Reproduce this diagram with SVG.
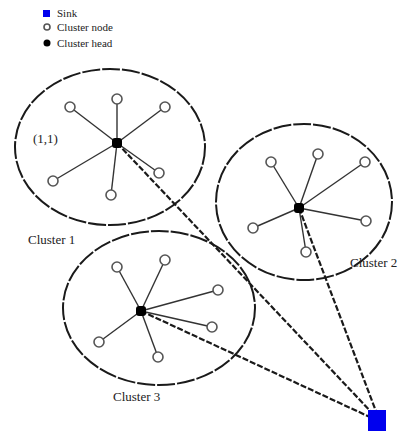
<svg xmlns="http://www.w3.org/2000/svg" width="400" height="433" viewBox="0 0 400 433">
<style>
.bg{fill:#fff}
.ell{fill:none;stroke:#1a1a1a;stroke-width:2;stroke-dasharray:18 2}
.spoke{stroke:#333;stroke-width:1.4}
.link{stroke:#1a1a1a;stroke-width:2.2;stroke-dasharray:6 2;fill:none}
.node{fill:#fff;stroke:#555;stroke-width:1.6}
.head{fill:#000}
.sink{fill:#0000ee}
.lbl{font-family:"Liberation Serif","Times New Roman",serif;font-size:13px;fill:#222}
.leg{font-family:"Liberation Serif","Times New Roman",serif;font-size:11px;fill:#222}
</style>
<rect class="bg" width="400" height="433"/>
<g id="legend">
<rect class="sink" x="43" y="10" width="7" height="7"/>
<text class="leg" x="57" y="17">Sink</text>
<circle class="node" cx="47" cy="27" r="3"/>
<text class="leg" x="57" y="31">Cluster node</text>
<circle class="head" cx="47" cy="43" r="3.5"/>
<text class="leg" x="57" y="47">Cluster head</text>
</g>
<g id="connectors">
<line class="link" x1="117" y1="143" x2="375" y2="416"/>
<line class="link" x1="299" y1="208" x2="377" y2="414"/>
<line class="link" x1="141" y1="311" x2="372" y2="418"/>
</g>
<g id="cluster1">
<ellipse class="ell" cx="110" cy="147" rx="95" ry="78"/>
<line class="spoke" x1="117" y1="143" x2="70" y2="107"/>
<line class="spoke" x1="117" y1="143" x2="117" y2="99"/>
<line class="spoke" x1="117" y1="143" x2="165" y2="107"/>
<line class="spoke" x1="117" y1="143" x2="53" y2="181"/>
<line class="spoke" x1="117" y1="143" x2="111" y2="195"/>
<line class="spoke" x1="117" y1="143" x2="159" y2="173"/>
<circle class="node" cx="70" cy="107" r="5"/>
<circle class="node" cx="117" cy="99" r="5"/>
<circle class="node" cx="165" cy="107" r="5"/>
<circle class="node" cx="53" cy="181" r="5"/>
<circle class="node" cx="111" cy="195" r="5"/>
<circle class="node" cx="159" cy="173" r="5"/>
<rect class="head" x="112" y="138" width="10" height="10" rx="3"/>
<text class="lbl" x="33" y="143">(1,1)</text>
<text class="lbl" x="28" y="244">Cluster 1</text>
</g>
<g id="cluster2">
<ellipse class="ell" cx="304" cy="202" rx="88" ry="78"/>
<line class="spoke" x1="299" y1="208" x2="271" y2="162"/>
<line class="spoke" x1="299" y1="208" x2="318" y2="154"/>
<line class="spoke" x1="299" y1="208" x2="365" y2="162"/>
<line class="spoke" x1="299" y1="208" x2="253" y2="228"/>
<line class="spoke" x1="299" y1="208" x2="306" y2="252"/>
<line class="spoke" x1="299" y1="208" x2="366" y2="221"/>
<circle class="node" cx="271" cy="162" r="5"/>
<circle class="node" cx="318" cy="154" r="5"/>
<circle class="node" cx="365" cy="162" r="5"/>
<circle class="node" cx="253" cy="228" r="5"/>
<circle class="node" cx="306" cy="252" r="5"/>
<circle class="node" cx="366" cy="221" r="5"/>
<rect class="head" x="294" y="203" width="10" height="10" rx="3"/>
<text class="lbl" x="350" y="267" font-size="12">Cluster 2</text>
</g>
<g id="cluster3">
<ellipse class="ell" cx="159" cy="308" rx="96" ry="77"/>
<line class="spoke" x1="141" y1="311" x2="117" y2="267"/>
<line class="spoke" x1="141" y1="311" x2="165" y2="260"/>
<line class="spoke" x1="141" y1="311" x2="218" y2="290"/>
<line class="spoke" x1="141" y1="311" x2="212" y2="327"/>
<line class="spoke" x1="141" y1="311" x2="99" y2="342"/>
<line class="spoke" x1="141" y1="311" x2="158" y2="357"/>
<circle class="node" cx="117" cy="267" r="5"/>
<circle class="node" cx="165" cy="260" r="5"/>
<circle class="node" cx="218" cy="290" r="5"/>
<circle class="node" cx="212" cy="327" r="5"/>
<circle class="node" cx="99" cy="342" r="5"/>
<circle class="node" cx="158" cy="357" r="5"/>
<rect class="head" x="136" y="306" width="10" height="10" rx="3"/>
<text class="lbl" x="113" y="401">Cluster 3</text>
</g>
<g id="sink">
<rect class="sink" x="368" y="410" width="18" height="21"/>
</g>
</svg>
